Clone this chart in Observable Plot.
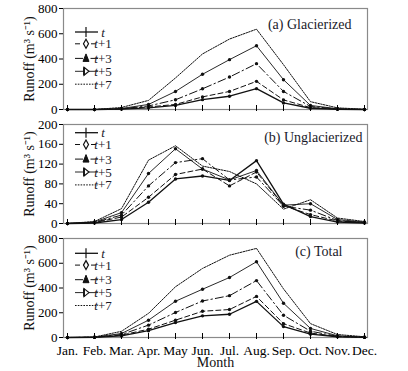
<!DOCTYPE html>
<html><head><meta charset="utf-8">
<script src="https://cdn.jsdelivr.net/npm/d3@7"></script>
<script src="https://cdn.jsdelivr.net/npm/@observablehq/plot@0.6"></script>
<style>body{margin:0;background:#fff} svg{display:block}</style>
</head><body><div id="chart"></div>
<script>
const months = ["Jan.","Feb.","Mar.","Apr.","May","Jun.","Jul.","Aug.","Sep.","Oct.","Nov.","Dec."];
const seriesNames = ["t","t+1","t+3","t+5","t+7"];

// (a) Glacierized
const glacT  = [0, 0, 3, 13, 32, 78, 105, 165, 52, 10, 2, 0];
const glacT1 = [0, 0, 5, 20, 40, 100, 143, 223, 76, 15, 3, 0];
const glacT3 = [0, 0, 6, 28, 77, 164, 257, 363, 143, 24, 4, 0];
const glacT5 = [0, 0, 8, 40, 143, 279, 395, 505, 236, 32, 6, 0];
const glacT7 = [0, 0, 16, 72, 250, 440, 558, 636, 355, 62, 13, 2];
// (b) Unglacierized
const unglT  = [0, 1, 8, 43, 90, 96, 87, 127, 39, 14, 3, 1];
const unglT1 = [0, 2, 13, 53, 99, 110, 76, 104, 36, 18, 5, 2];
const unglT3 = [0, 2, 17, 76, 123, 131, 88, 94, 35, 27, 6, 2];
const unglT5 = [0, 3, 22, 101, 151, 110, 88, 107, 37, 40, 8, 3];
const unglT7 = [0, 4, 30, 128, 157, 116, 105, 80, 29, 48, 11, 4];
// (c) Total
const totT  = [0, 1, 13, 55, 121, 175, 188, 292, 88, 27, 6, 1];
const totT1 = [0, 2, 19, 67, 140, 212, 226, 332, 112, 36, 8, 2];
const totT3 = [0, 2, 24, 100, 202, 295, 338, 460, 180, 51, 10, 2];
const totT5 = [0, 3, 32, 140, 293, 390, 485, 612, 277, 73, 14, 3];
const totT7 = [0, 4, 50, 195, 410, 558, 665, 720, 393, 112, 24, 6];

const ticksA = [0, 200, 400, 600, 800];
const ticksB = [0, 40, 80, 120, 160, 200];
const ticksC = [0, 200, 400, 600, 800];

const yLabel = "Runoff (m³ s⁻¹)";
const FONT = "Liberation Serif";

const styles = {
  "t":   {strokeWidth: 1.3, dash: null, marker: true},
  "t+1": {strokeWidth: 1, dash: "5,3", marker: true},
  "t+3": {strokeWidth: 1, dash: "8,3,1.5,3", marker: true},
  "t+5": {strokeWidth: 0.9, dash: null, marker: true},
  "t+7": {strokeWidth: 1, dash: "1.6,1.2", marker: false}
};

function rows(arrs) {
  const out = [];
  arrs.forEach((arr, i) => arr.forEach((v, j) => out.push({month: months[j], series: seriesNames[i], value: v})));
  return out;
}

function panel(o) {
  const data = rows(o.arrays);
  const marks = [Plot.frame({stroke: "#8a8a8a", strokeWidth: 1.2})];
  for (const s of seriesNames) {
    const st = styles[s];
    const d = data.filter(r => r.series === s);
    marks.push(Plot.line(d, {x: "month", y: "value", stroke: "#111", strokeWidth: st.strokeWidth, strokeDasharray: st.dash}));
    if (st.marker) marks.push(Plot.dot(d, {x: "month", y: "value", r: 1.7, fill: "#111"}));
  }
  marks.push(Plot.axisY({ticks: o.yTicks, tickSize: 4, tickPadding: 2, fontSize: 13, fontFamily: FONT, label: null}));
  marks.push(Plot.axisX({tickSize: 6, dy: -4, tickFormat: () => "", label: null}));
  if (o.showX) {
    marks.push(Plot.axisX({tickSize: 0, tickPadding: 8, fontSize: 13.5, fontFamily: FONT, label: null}));
    marks.push(Plot.text(["Month"], {frameAnchor: "bottom", lineAnchor: "middle", textAnchor: "middle", dy: 25.5, fontSize: 14, fontFamily: FONT, fill: "#111"}));
  }
  marks.push(Plot.text([yLabel], {frameAnchor: "left", textAnchor: "middle", lineAnchor: "middle", dx: -34, rotate: -90, fontSize: 14, fontFamily: FONT, fill: "#111"}));
  marks.push(Plot.text([o.title], {frameAnchor: "top-right", textAnchor: "end", lineAnchor: "middle", dx: o.titleDx, dy: o.titleDy, fontSize: 14, fontFamily: FONT, fill: "#1a1a2a"}));
  const svg = Plot.plot({
    width: 408, height: o.height,
    marginLeft: 63, marginRight: 41, marginTop: o.marginTop, marginBottom: o.marginBottom,
    x: {type: "point", domain: months, padding: 0, axis: null},
    y: {domain: [0, o.yMax], axis: null},
    style: {fontFamily: FONT, fontSize: "13px", color: "#000", background: "#fff"},
    marks
  });
  drawLegend(svg, o.legendTop);
  return svg;
}

function drawLegend(svg, top) {
  const g = d3.select(svg).append("g").attr("fill", "none").attr("stroke", "#111");
  const offs = [0, 11.8, 26.4, 39.3, 52.2];
  const x1 = 75, x2 = 98, cx = 86;
  seriesNames.forEach((s, i) => {
    const y = top + offs[i];
    const st = styles[s];
    g.append("line").attr("x1", x1).attr("x2", x2).attr("y1", y).attr("y2", y)
      .attr("stroke-width", st.strokeWidth).attr("stroke-dasharray", st.dash);
    if (s === "t") {
      g.append("line").attr("x1", cx).attr("x2", cx).attr("y1", y - 5).attr("y2", y + 5).attr("stroke-width", 1.2);
    } else if (s === "t+1") {
      g.append("path").attr("d", `M${cx},${y-4.5}L${cx+2.5},${y}L${cx},${y+4.5}L${cx-2.5},${y}Z`).attr("fill", "#fff").attr("stroke-width", 1.2);
    } else if (s === "t+3") {
      g.append("path").attr("d", `M${cx},${y-4.5}L${cx+3},${y+3}L${cx-3},${y+3}Z`).attr("fill", "#111");
    } else if (s === "t+5") {
      g.append("path").attr("d", `M${cx-2},${y-4}L${cx+3},${y}L${cx-2},${y+4}Z`).attr("fill", "#fff").attr("stroke-width", 1.1);
      g.append("line").attr("x1", cx-2).attr("x2", cx-2).attr("y1", y-4).attr("y2", y+4).attr("stroke-width", 1.8);
    }
    const t = d3.select(svg).append("text").attr("x", 103).attr("y", y).attr("dy", "0.35em")
      .attr("font-size", 13).attr("font-family", FONT).attr("fill", "#1a1a2a");
    t.append("tspan").attr("font-style", "italic").text("t");
    if (s !== "t") t.append("tspan").text(s.slice(1));
  });
}

const root = document.getElementById("chart");
root.append(panel({arrays: [glacT, glacT1, glacT3, glacT5, glacT7], yMax: 800, yTicks: ticksA,
  height: 116, marginTop: 8, marginBottom: 7, title: "(a) Glacierized", titleDx: -16, titleDy: 16, legendTop: 32, showX: false}));
root.append(panel({arrays: [unglT, unglT1, unglT3, unglT5, unglT7], yMax: 200, yTicks: ticksB,
  height: 115, marginTop: 8, marginBottom: 8, title: "(b) Unglacierized", titleDx: -5, titleDy: 13, legendTop: 16.7, showX: false}));
root.append(panel({arrays: [totT, totT1, totT3, totT5, totT7], yMax: 800, yTicks: ticksC,
  height: 140, marginTop: 7, marginBottom: 34, title: "(c) Total", titleDx: -25, titleDy: 13, legendTop: 22.3, showX: true}));
</script>
</body></html>
